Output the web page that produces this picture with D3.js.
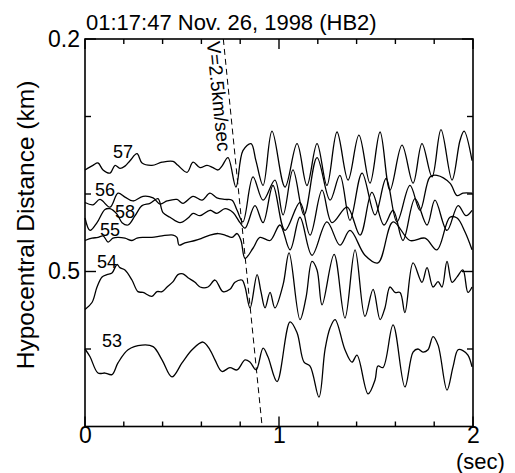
<!DOCTYPE html>
<html>
<head>
<meta charset="utf-8">
<script src="https://cdn.jsdelivr.net/npm/d3@7"></script>
<style>
  body { margin: 0; background: #fff; }
  text { font-family: "Liberation Sans", Arial, Helvetica, sans-serif; fill: #000; }
</style>
</head>
<body>
<svg id="chart" width="515" height="473"></svg>
<script>
// Event record
const title = "01:17:47 Nov. 26, 1998 (HB2)";
const yTitle = "Hypocentral Distance (km)";
const xUnit = "(sec)";
const velocityLabel = "V=2.5km/sec";
const velocity = 2.5;        // km/sec
const originTime = 0.633;    // sec, intercept of the travel-time line

// Axis ticks
const xMajor = [0, 1, 2];
const xMinor = [0.2, 0.4, 0.6, 0.8, 1.2, 1.4, 1.6, 1.8];
const yMajor = [0.2, 0.5];
const yMinor = [0.3, 0.4, 0.6];
const yLabelled = [0.2, 0.5];

// Stations and their hypocentral distances (km)
const stations = ["57", "56", "58", "55", "54", "53"];
const distances = [0.363, 0.408, 0.425, 0.457, 0.517, 0.614];
// Label anchor per trace: time (sec) and offset above trace baseline (m)
const labelTime = [0.144, 0.052, 0.155, 0.077, 0.062, 0.088];
const labelLift = [10, 6, -6, 3, 22, 17];

// Waveforms: time (sec) and amplitude (m of equivalent distance, positive up)
const t57 = [0,0.041,0.067,0.093,0.129,0.155,0.180,0.206,0.232,0.268,0.294,0.345,0.397,0.454,0.479,0.526,0.557,0.593,0.629,0.660,0.686,0.706,0.737,
             0.778,0.814,0.856,0.881,0.918,0.964,1.031,1.093,1.144,1.196,1.247,1.299,1.356,1.412,1.469,1.521,1.572,1.634,1.691,1.737,1.789,1.835,1.892,1.933,1.954,1.995];
const a57 = [-6,0,3,-6,-10,0,-4,-1,6,15,3,0,4,5,0,-9,4,-3,0,-3,-6,-1,10,
             -28,19,28,6,-26,44,-28,28,-26,28,-26,43,-19,39,-23,43,-32,26,-23,28,-15,46,-19,32,44,6];

const t56 = [0,0.041,0.077,0.129,0.170,0.206,0.247,0.299,0.351,0.387,0.423,0.474,0.505,0.557,0.603,0.644,0.680,0.722,0.758,0.784,
             0.814,0.866,0.918,0.979,1.021,1.072,1.129,1.196,1.263,1.314,1.366,1.428,1.495,1.552,1.608,1.675,1.727,1.778,1.814,1.881,1.918,1.948,1.995];
const a56 = [-3,-6,1,-9,9,4,-1,5,3,-5,-1,1,-4,5,0,9,3,1,0,-13,
             -28,30,0,26,-19,39,-19,55,0,32,-26,35,-19,28,-28,19,-13,30,32,22,6,9,9];

const t58 = [0,0.026,0.062,0.103,0.129,0.165,0.191,0.222,0.258,0.294,0.335,0.376,0.402,0.438,0.490,0.531,0.557,0.593,0.644,0.680,0.722,0.763,0.799,
             0.825,0.876,0.918,0.969,1.031,1.108,1.160,1.222,1.273,1.351,1.418,1.479,1.541,1.588,1.639,1.701,1.763,1.804,1.866,1.923,1.964,1.995];
const a58 = [-6,-22,-12,5,6,-1,-12,-15,-3,10,13,19,1,-5,-12,-6,0,-3,4,0,6,1,-12,
             -19,10,-12,36,-22,14,-28,30,-12,8,-28,27,-15,4,-35,19,-15,17,-22,10,-3,4];

const t55 = [0,0.036,0.067,0.093,0.119,0.144,0.170,0.206,0.242,0.268,0.299,0.345,0.397,0.454,0.474,0.485,0.515,0.567,0.603,0.644,0.686,0.722,0.758,0.784,0.804,
             0.825,0.866,0.902,0.954,1.005,1.057,1.108,1.170,1.247,1.314,1.366,1.443,1.510,1.588,1.675,1.753,1.814,1.881,1.918,1.959,1.995];
const a55 = [-3,0,1,3,-5,0,1,0,-3,0,1,1,3,4,1,-9,-6,-3,0,4,6,4,1,6,-3,
             -26,-13,1,-3,17,-15,27,-22,21,-9,10,-22,-32,21,-3,0,-15,27,26,8,-15];

const t54 = [0,0.036,0.062,0.088,0.113,0.139,0.165,0.180,0.206,0.242,0.273,0.299,0.345,0.371,0.397,0.423,0.454,0.479,0.505,0.531,0.567,0.593,0.634,0.670,0.711,0.747,0.773,0.809,0.825,
             0.851,0.887,0.907,0.928,0.954,0.979,1.021,1.052,1.108,1.139,1.170,1.196,1.222,1.284,1.340,1.392,1.443,1.485,1.521,1.546,1.572,1.598,1.624,1.649,1.691,1.737,1.763,1.794,1.820,1.840,1.866,1.892,1.918,1.948,1.974,1.995];
const a54 = [-32,-23,-3,10,13,15,26,22,19,6,-9,-10,-15,-9,-9,-3,4,13,14,9,3,-3,-3,6,-9,-6,3,6,-3,
             -30,13,-9,-30,-10,-30,0,41,-45,-17,30,19,-26,39,-43,45,-41,-6,-45,-30,-3,-10,-10,-36,28,3,22,-3,4,-3,30,3,10,19,-10,-3];

const t53 = [0,0.026,0.067,0.103,0.139,0.170,0.222,0.294,0.351,0.397,0.448,0.500,0.552,0.608,0.644,0.670,0.706,0.747,0.784,0.825,
             0.851,0.882,0.918,0.943,0.990,1.057,1.093,1.129,1.160,1.206,1.237,1.263,1.289,1.340,1.376,1.402,1.459,1.495,1.510,1.536,
             1.588,1.649,1.691,1.716,1.742,1.768,1.794,1.820,1.866,1.897,1.923,1.948,1.974,1.995];
const a53 = [14,4,-17,-17,-19,-4,13,19,17,0,-22,-4,13,23,13,0,-15,-10,-13,0,
             -3,-13,15,4,-28,49,35,-3,-8,-48,13,41,52,13,-3,6,-44,-26,-8,-10,
             45,-35,10,14,10,13,30,19,-39,-9,13,12,6,-9];

const times = [t57, t56, t58, t55, t54, t53];
const amps  = [a57, a56, a58, a55, a54, a53];

// ---- layout ----
const svg = d3.select("#chart");
const x = d3.scaleLinear().domain([0, 2]).range([85, 473]);
const y = d3.scaleLinear().domain([0.2, 0.7]).range([39, 426.5]);
const [x0, x1] = x.range();
const [y0, y1] = y.range();

// traces
const line = d3.line()
  .x(d => x(d[0]))
  .y(d => y(d[1]))
  .curve(d3.curveCatmullRom.alpha(0.5));

const traces = svg.append("g").attr("fill", "none").attr("stroke", "#000")
  .attr("stroke-width", 1.3).attr("stroke-linejoin", "round");
stations.forEach((s, i) => {
  const pts = times[i].map((t, k) => [t, distances[i] - amps[i][k] / 1000]);
  traces.append("path").attr("d", line(pts));
});

// station labels
svg.append("g").selectAll("text").data(stations).join("text")
  .attr("x", (d, i) => x(labelTime[i]))
  .attr("y", (d, i) => y(distances[i] - labelLift[i] / 1000))
  .attr("font-size", 18)
  .text(d => d);

// travel-time line for V = 2.5 km/sec
const tt = d => originTime + d / velocity;
svg.append("line")
  .attr("x1", x(tt(0.2))).attr("y1", y(0.2))
  .attr("x2", x(tt(0.7))).attr("y2", y(0.7))
  .attr("stroke", "#000").attr("stroke-width", 1).attr("stroke-dasharray", "6,4");

const ang = Math.atan2(y(0.7) - y(0.2), x(tt(0.7)) - x(tt(0.2))) * 180 / Math.PI;
const dStart = 0.204;
svg.append("text")
  .attr("transform", `translate(${x(tt(dStart)) - 17},${y(dStart)}) rotate(${ang})`)
  .attr("font-size", 19)
  .text(velocityLabel);

// frame
svg.append("rect")
  .attr("x", x0).attr("y", y0).attr("width", x1 - x0).attr("height", y1 - y0)
  .attr("fill", "none").attr("stroke", "#000").attr("stroke-width", 1.6);

// inward ticks on all four sides
const tickG = svg.append("g").attr("stroke", "#000").attr("stroke-width", 1.4);
const xTicks = xMajor.map(v => [v, 10]).concat(xMinor.map(v => [v, 5]));
xTicks.forEach(([v, len]) => {
  tickG.append("line").attr("x1", x(v)).attr("x2", x(v)).attr("y1", y1).attr("y2", y1 - len);
  tickG.append("line").attr("x1", x(v)).attr("x2", x(v)).attr("y1", y0).attr("y2", y0 + len);
});
const yTicks = yMajor.map(v => [v, 11]).concat(yMinor.map(v => [v, 6]));
yTicks.forEach(([v, len]) => {
  tickG.append("line").attr("y1", y(v)).attr("y2", y(v)).attr("x1", x0).attr("x2", x0 + len);
  tickG.append("line").attr("y1", y(v)).attr("y2", y(v)).attr("x1", x1).attr("x2", x1 - len);
});

// tick labels through d3 axes (tick marks hidden, drawn above)
const xAxis = d3.axisBottom(x).tickValues(xMajor).tickSize(0).tickPadding(0).tickFormat(d3.format("d"));
svg.append("g").attr("transform", `translate(0,${y1})`).call(xAxis)
  .call(g => g.select(".domain").remove())
  .selectAll("text").attr("font-size", 23).attr("font-family", null);

const yAxis = d3.axisLeft(y).tickValues(yLabelled).tickSize(0).tickPadding(5).tickFormat(d3.format(".1f"));
svg.append("g").attr("transform", `translate(${x0},0)`).call(yAxis)
  .call(g => g.select(".domain").remove())
  .selectAll("text").attr("font-size", 23).attr("font-family", null);

// unit and titles
svg.append("text").attr("x", 456).attr("y", 468.5).attr("font-size", 22).text(xUnit);
svg.append("text").attr("x", 86).attr("y", 30).attr("font-size", 22).text(title);
svg.append("text")
  .attr("transform", `translate(34,225) rotate(-90)`)
  .attr("text-anchor", "middle").attr("font-size", 24.5)
  .text(yTitle);
</script>
</body>
</html>
